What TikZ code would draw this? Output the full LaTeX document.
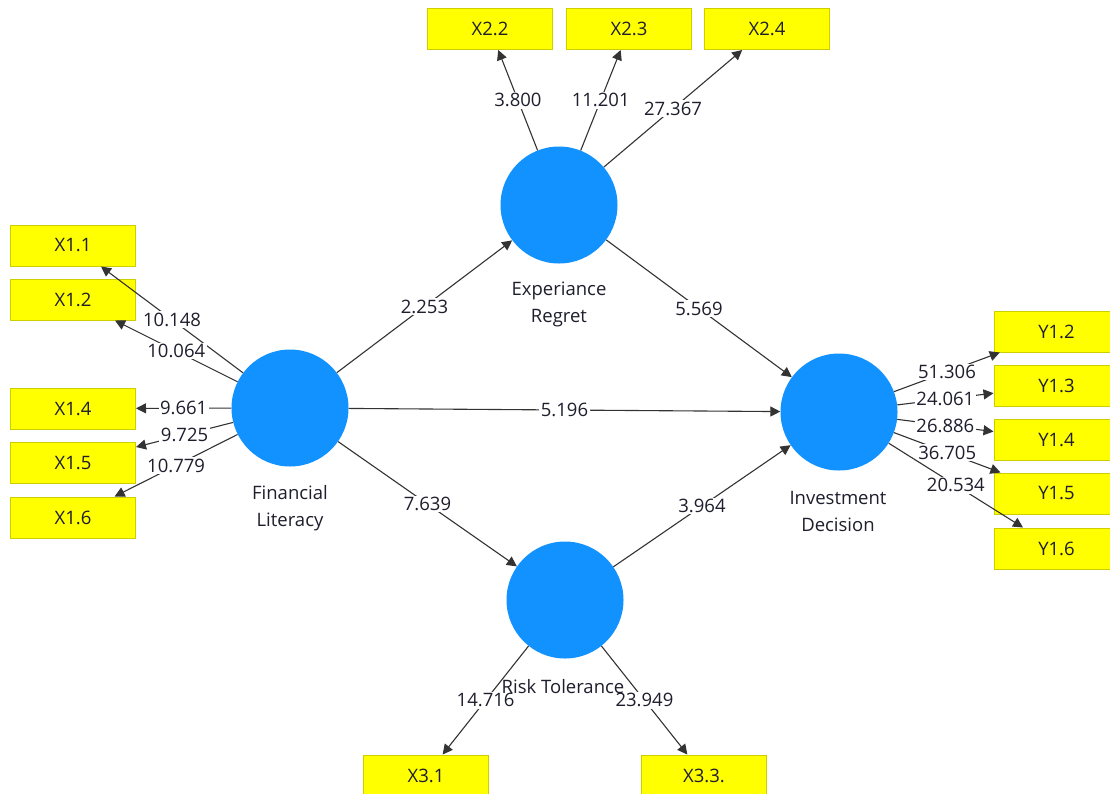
\documentclass[tikz,border=0pt]{standalone}
\usepackage{fontspec}
\setmainfont{Open Sans}
\usetikzlibrary{arrows.meta}
\definecolor{lvblue}{RGB}{17,146,255}
\definecolor{boxyel}{RGB}{255,255,0}
\definecolor{boxedge}{RGB}{205,205,0}
\definecolor{txt}{RGB}{30,30,45}
\begin{document}
\begin{tikzpicture}[x=1pt,y=-1pt,
  font=\fontsize{18.5}{27}\selectfont,
  lv/.style={circle, fill=lvblue, minimum size=117pt, inner sep=0pt},
  ind/.style={rectangle, fill=boxyel, draw=boxedge, line width=1pt, minimum width=125pt, minimum height=41pt, inner sep=0pt, text=txt},
  arr/.style={draw=black!80, line width=1.1pt, -{Triangle[length=10pt,width=10pt]}},
  lbl/.style={fill=white, inner sep=1.5pt, text=txt, midway},
  lvname/.style={text=txt, align=center, inner sep=0pt}]
\useasboundingbox (0,0) rectangle (1110,793);
\clip (0,0) rectangle (1110,793);
\fill[white] (0,0) rectangle (1110,793);
% latent variables
\node[lv] (FL) at (290,408) {};
\node[lv] (ER) at (559,205) {};
\node[lv] (ID) at (839,412) {};
\node[lv] (RT) at (565,600) {};
% indicators
\node[ind] (X11) at (73,245.5) {X1.1};
\node[ind] (X12) at (73,299.5) {X1.2};
\node[ind] (X14) at (73,408.5) {X1.4};
\node[ind] (X15) at (73,463) {X1.5};
\node[ind] (X16) at (73,517.5) {X1.6};
\node[ind] (X22) at (490,29) {X2.2};
\node[ind] (X23) at (629,29) {X2.3};
\node[ind] (X24) at (767,29) {X2.4};
\node[ind] (Y12) at (1056.5,331.5) {Y1.2};
\node[ind] (Y13) at (1056.5,385.5) {Y1.3};
\node[ind] (Y14) at (1056.5,439.5) {Y1.4};
\node[ind] (Y15) at (1056.5,493.5) {Y1.5};
\node[ind] (Y16) at (1056.5,548.5) {Y1.6};
\node[ind] (X31) at (426,775.5) {X3.1};
\node[ind] (X33) at (704,775.5) {X3.3.};
% structural paths
\draw[arr] (FL) -- node[lbl]{2.253} (ER);
\draw[arr] (ER) -- node[lbl]{5.569} (ID);
\draw[arr] (FL) -- node[lbl]{5.196} (ID);
\draw[arr] (FL) -- node[lbl]{7.639} (RT);
\draw[arr] (RT) -- node[lbl]{3.964} (ID);
% outer loadings
\draw[arr] (FL) -- node[lbl]{10.148} (X11);
\draw[arr] (FL) -- node[lbl]{10.064} (X12);
\draw[arr] (FL) -- node[lbl]{9.661} (X14);
\draw[arr] (FL) -- node[lbl]{9.725} (X15);
\draw[arr] (FL) -- node[lbl]{10.779} (X16);
\draw[arr] (ER) -- node[lbl]{3.800} (X22);
\draw[arr] (ER) -- node[lbl]{11.201} (X23);
\draw[arr] (ER) -- node[lbl]{27.367} (X24);
\draw[arr] (ID) -- node[lbl]{51.306} (Y12);
\draw[arr] (ID) -- node[lbl]{24.061} (Y13);
\draw[arr] (ID) -- node[lbl]{26.886} (Y14);
\draw[arr] (ID) -- node[lbl]{36.705} (Y15);
\draw[arr] (ID) -- node[lbl]{20.534} (Y16);
\draw[arr] (RT) -- node[lbl]{14.716} (X31);
\draw[arr] (RT) -- node[lbl]{23.949} (X33);
% names
\node[lvname] (FLn) at (290,508) {Financial\\Literacy};
\node[lvname] (ERn) at (559,304) {Experiance\\Regret};
\node[lvname] (IDn) at (838,511) {Investment\\Decision};
\node[lvname] (RTn) at (563,687) {Risk Tolerance};
\end{tikzpicture}
\end{document}
